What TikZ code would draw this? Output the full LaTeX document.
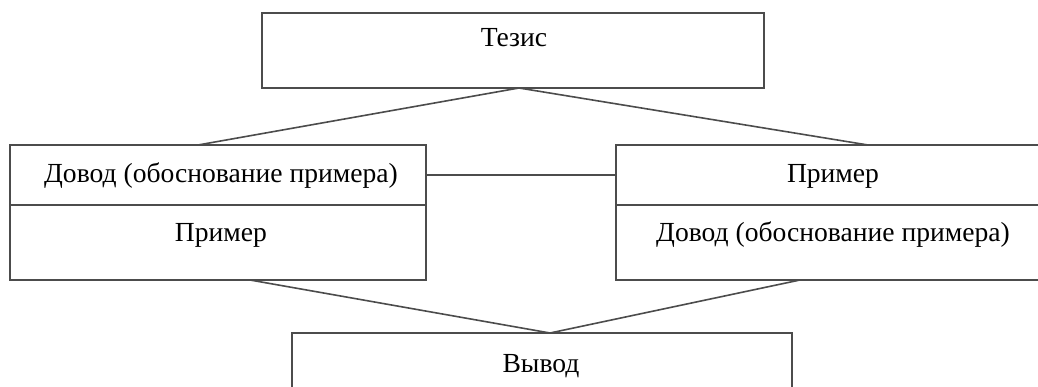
\documentclass[tikz,border=0pt]{standalone}
\usepackage{fontspec}
\setmainfont{Liberation Serif}
\begin{document}
\begin{tikzpicture}[x=1pt,y=1pt,
  cell/.style={draw=black!70, line width=1.6pt, inner sep=0pt, outer sep=0pt, anchor=north west},
  txt/.style={inner sep=0pt, anchor=base, font=\fontsize{27.6}{32}\selectfont, text=black},
  link/.style={draw=black!70, line width=1.6pt}]
\path[use as bounding box, clip] (0,0) rectangle (1038,-387);
% boxes
\node[cell, minimum width=502pt, minimum height=75pt] (top) at (262,-13) {};
\node[cell, minimum width=416pt, minimum height=60pt] (l1) at (10,-145) {};
\node[cell, minimum width=416pt, minimum height=75pt] (l2) at (10,-205) {};
\node[cell, minimum width=434pt, minimum height=60pt] (r1) at (616,-145) {};
\node[cell, minimum width=434pt, minimum height=75pt] (r2) at (616,-205) {};
\node[cell, minimum width=500pt, minimum height=90pt] (bot) at (292,-333) {};
% texts
\node[txt] (ttop) at (514,-47) {Тезис};
\node[txt] (tl1) at (221,-183) {Довод (обоснование примера)};
\node[txt] (tl2) at (221,-242) {Пример};
\node[txt] (tr1) at (833,-183) {Пример};
\node[txt] (tr2) at (833,-242) {Довод (обоснование примера)};
\node[txt] (tbot) at (541,-372) {Вывод};
% connection points
\coordinate (apexT) at (519,-88);
\coordinate (lTop) at (198,-145);
\coordinate (rTop) at (868,-145);
\coordinate (lBot) at (250,-280);
\coordinate (rBot) at (800,-280);
\coordinate (apexB) at (550,-333);
\draw[link] (lTop) -- (apexT) -- (rTop);
\draw[link] (l1.east) -- (r1.west);
\draw[link] (lBot) -- (apexB) -- (rBot);
\end{tikzpicture}
\end{document}
